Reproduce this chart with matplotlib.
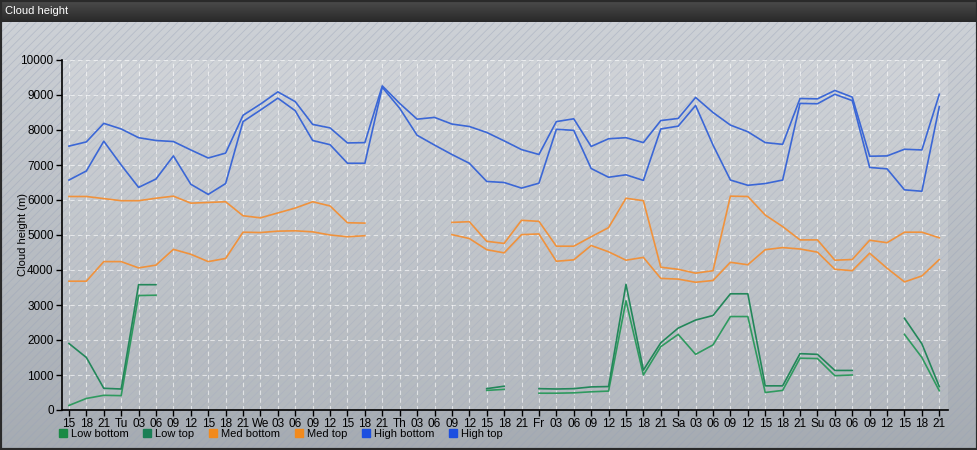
import matplotlib
matplotlib.use("Agg")
import matplotlib.pyplot as plt
import numpy as np
from matplotlib.lines import Line2D
from matplotlib.patches import Rectangle

nan = np.nan

# 3-hourly steps, labels as printed under the x axis
x_labels = ["15", "18", "21",
            "Tu", "03", "06", "09", "12", "15", "18", "21",
            "We", "03", "06", "09", "12", "15", "18", "21",
            "Th", "03", "06", "09", "12", "15", "18", "21",
            "Fr", "03", "06", "09", "12", "15", "18", "21",
            "Sa", "03", "06", "09", "12", "15", "18", "21",
            "Su", "03", "06", "09", "12", "15", "18", "21"]

high_top = [7540, 7660, 8190, 8030, 7780, 7700, 7670, 7430, 7200, 7340, 8420, 8740, 9090, 8810, 8160, 8060,
            7630, 7640, 9260, 8760, 8310, 8360, 8170, 8100, 7930, 7690, 7440, 7300, 8240, 8320, 7530, 7750,
            7780, 7640, 8270, 8330, 8930, 8500, 8140, 7950, 7640, 7590, 8900, 8890, 9130, 8940, 7250, 7260,
            7450, 7430, 9020]
high_bottom = [6570, 6830, 7680, 7000, 6360, 6600, 7260, 6450, 6160, 6470, 8240, 8570, 8910, 8550, 7700, 7580,
               7050, 7050, 9220, 8620, 7850, 7570, 7300, 7050, 6530, 6500, 6340, 6480, 8020, 7990, 6900, 6650,
               6720, 6560, 8030, 8110, 8700, 7570, 6570, 6420, 6470, 6570, 8760, 8750, 9020, 8840, 6930, 6890,
               6290, 6250, 8670]
med_top = [6100, 6100, 6040, 5980, 5980, 6050, 6110, 5910, 5930, 5950, 5550, 5490, 5630, 5770, 5950, 5830,
           5350, 5340, nan, nan, nan, nan, 5360, 5380, 4820, 4760, 5420, 5390, 4680, 4680, 4950, 5210,
           6050, 5980, 4080, 4020, 3910, 3980, 6110, 6100, 5570, 5240, 4860, 4860, 4280, 4300, 4850, 4780,
           5080, 5080, 4920]
med_bottom = [3680, 3680, 4240, 4240, 4060, 4140, 4590, 4450, 4240, 4330, 5080, 5070, 5110, 5120, 5090, 5000,
              4950, 4980, nan, nan, nan, nan, 5010, 4900, 4580, 4490, 5010, 5030, 4250, 4290, 4700, 4520,
              4280, 4360, 3760, 3740, 3650, 3700, 4220, 4150, 4580, 4640, 4600, 4510, 4020, 3980, 4480, 4050,
              3660, 3830, 4300]
low_top = [1900, 1500, 620, 600, 3580, 3580, nan, nan, nan, nan, nan, nan, nan, nan, nan, nan,
           nan, nan, nan, nan, nan, nan, nan, nan, 610, 680, nan, 610, 600, 610, 660, 670,
           3590, 1140, 1920, 2340, 2570, 2700, 3320, 3320, 690, 690, 1610, 1590, 1130, 1130, nan, nan,
           2620, 1890, 670]
low_bottom = [130, 330, 420, 410, 3270, 3280, nan, nan, nan, nan, nan, nan, nan, nan, nan, nan,
              nan, nan, nan, nan, nan, nan, nan, nan, 560, 590, nan, 480, 480, 490, 520, 540,
              3120, 1000, 1810, 2160, 1590, 1860, 2670, 2670, 500, 560, 1480, 1470, 980, 1000, nan, nan,
              2160, 1500, 550]

x = np.arange(len(x_labels))

plt.rcParams["font.family"] = ["Liberation Sans", "DejaVu Sans"]
plt.rcParams["hatch.linewidth"] = 0.6

fig = plt.figure(figsize=(9.78, 4.5), dpi=100)

# panel background: vertical grey gradient with fine diagonal stripes
bg = fig.add_axes([0, 0, 1, 1], zorder=-10)
grad = np.linspace(0, 1, 256).reshape(-1, 1)
top_c = np.array([0.812, 0.827, 0.847])
bot_c = np.array([0.650, 0.672, 0.698])
img = top_c + (bot_c - top_c) * grad[:, :, None]
bg.imshow(img, aspect="auto", extent=[0, 1, 0, 1], origin="upper")
bg.add_patch(Rectangle((0, 0), 1, 1, facecolor="none", edgecolor=(0.6, 0.64, 0.72, 0.45),
                       hatch="////", linewidth=0))
bg.set_xlim(0, 1)
bg.set_ylim(0, 1)
bg.axis("off")

# title bar
bar = fig.add_axes([0, 1 - 22 / 450, 1, 22 / 450], zorder=-5)
bar_grad = np.linspace(0, 1, 64).reshape(-1, 1)
bar_img = np.array([0.30, 0.30, 0.30]) + (np.array([0.16, 0.16, 0.16]) - 0.30) * bar_grad[:, :, None]
bar.imshow(bar_img, aspect="auto", extent=[0, 1, 0, 1], origin="upper")
bar.axis("off")
fig.text(5 / 978, 1 - 11 / 450, "Cloud height", color="white", fontsize=8, va="center", ha="left")

# outer border
fig.add_artist(Rectangle((0, 0), 1, 1, transform=fig.transFigure, facecolor="none",
                         edgecolor="#2a2a2a", linewidth=3))

ax = fig.add_axes([62 / 978, 40 / 450, 886 / 978, 350 / 450])
ax.set_facecolor((1, 1, 1, 0.13))

ax.plot(x, low_bottom, color="#2f9a5f", linewidth=1.2, label="Low bottom")
ax.plot(x, low_top, color="#23875a", linewidth=1.2, label="Low top")
ax.plot(x, med_bottom, color="#f0923c", linewidth=1.2, label="Med bottom")
ax.plot(x, med_top, color="#f0923c", linewidth=1.2, label="Med top")
ax.plot(x, high_bottom, color="#3b67d6", linewidth=1.2, label="High bottom")
ax.plot(x, high_top, color="#3b67d6", linewidth=1.2, label="High top")

ax.set_xlim(-0.4, 50.5)
ax.set_ylim(0, 10000)
ax.set_xticks(x)
ax.set_xticklabels(x_labels)
ax.set_yticks(np.arange(0, 10001, 1000))

ax.grid(True, color="white", linestyle=(0, (4, 3)), linewidth=0.8, alpha=0.6)
ax.set_axisbelow(True)

for side in ["top", "right"]:
    ax.spines[side].set_visible(False)
for side in ["left", "bottom"]:
    ax.spines[side].set_linewidth(1.2)
    ax.spines[side].set_color("black")

ax.tick_params(axis="both", labelsize=8.5, length=4, width=1, pad=2, colors="black")
ax.set_ylabel("Cloud height (m)", fontsize=8)
ax.yaxis.set_label_coords(-34 / 886, 0.5)

legend_handles = [
    Line2D([], [], marker="s", linestyle="none", markersize=5.5, color="#1a8a45", label="Low bottom"),
    Line2D([], [], marker="s", linestyle="none", markersize=5.5, color="#1a7f55", label="Low top"),
    Line2D([], [], marker="s", linestyle="none", markersize=5.5, color="#f28a1c", label="Med bottom"),
    Line2D([], [], marker="s", linestyle="none", markersize=5.5, color="#f28a1c", label="Med top"),
    Line2D([], [], marker="s", linestyle="none", markersize=5.5, color="#1c4fe0", label="High bottom"),
    Line2D([], [], marker="s", linestyle="none", markersize=5.5, color="#1c4fe0", label="High top"),
]
ax.legend(handles=legend_handles, loc="upper left", bbox_to_anchor=(-0.003, -0.054), ncol=6,
          frameon=False, fontsize=8, handlelength=0.6, handletextpad=0.45, columnspacing=1.35,
          borderaxespad=0, borderpad=0)

plt.savefig("out.png", dpi=100)
plt.close()
